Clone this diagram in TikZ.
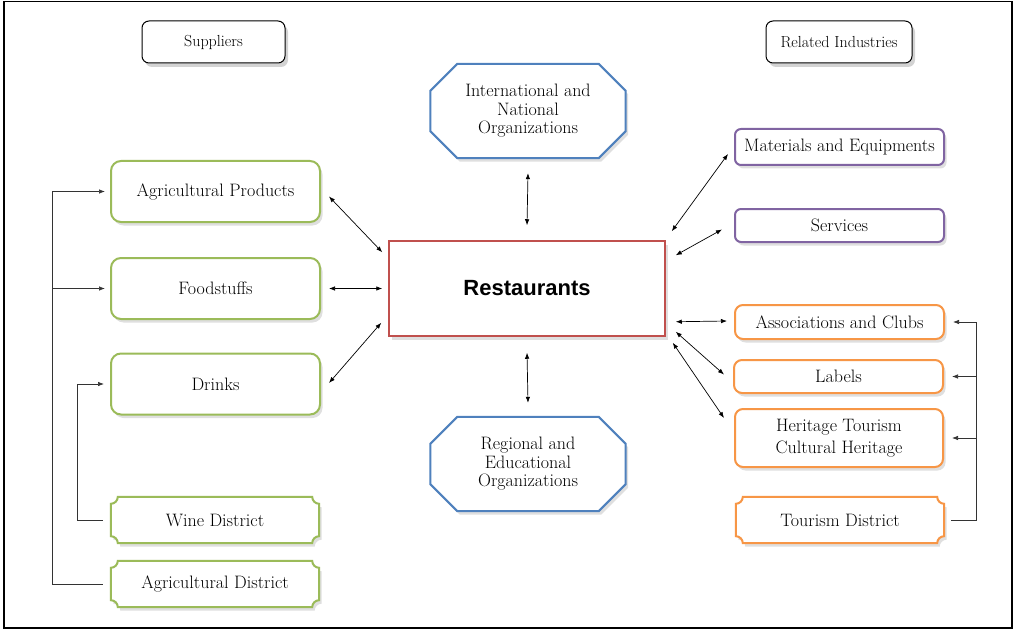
\documentclass[tikz,border=0pt]{standalone}
\usepackage{fontspec}
\newfontfamily\hubfont{Liberation Sans}
\usetikzlibrary{arrows.meta,shadows,backgrounds}

\definecolor{suppgreen}{RGB}{155,187,89}
\definecolor{orgblue}{RGB}{79,129,189}
\definecolor{hubred}{RGB}{192,80,77}
\definecolor{indpurple}{RGB}{128,100,162}
\definecolor{assocorange}{RGB}{247,150,70}

\tikzset{
  every node/.style={font=\fontsize{18}{18.5}\selectfont, inner sep=0pt, align=center},
  shadowed/.style={drop shadow={opacity=0.25, shadow xshift=2.5pt, shadow yshift=-3.5pt}},
  headbox/.style={draw=black, line width=1pt, rounded corners=7pt, fill=white, minimum height=42pt,
    font=\fontsize{16}{17}\selectfont, drop shadow={opacity=0.35, shadow xshift=3pt, shadow yshift=-4pt}},
  suppbox/.style={draw=suppgreen, line width=2pt, rounded corners=10pt, fill=white,
    minimum width=209pt, minimum height=61pt, shadowed},
  indbox/.style={draw=indpurple, line width=2pt, rounded corners=6pt, fill=white,
    minimum width=209pt, minimum height=34pt, shadowed},
  assocbox/.style={draw=assocorange, line width=2pt, rounded corners=8pt, fill=white,
    minimum width=209pt, minimum height=34pt, shadowed},
  orgbox/.style={minimum width=195pt, minimum height=94pt},
  hubbox/.style={draw=hubred, line width=1.5pt, fill=white, minimum width=276pt, minimum height=95pt,
    font=\hubfont\bfseries\fontsize{22}{26}\selectfont, shadowed},
  district/.style={minimum width=208pt, minimum height=46pt},
  arr/.style={-{Latex[length=6pt,width=4.5pt]}, line width=0.7pt, draw=black!80},
  twoway/.style={{Latex[length=6pt,width=4.5pt]}-{Latex[length=6pt,width=4.5pt]}, line width=0.7pt},
}

% box with hollow corners, drawn round a node
\newcommand\scallop[2]{%
  \draw[#2, line width=2pt, fill=white, shadowed]
    ([xshift=7pt]#1.north west) -- ([xshift=-7pt]#1.north east)
    arc[start angle=180, end angle=270, radius=7pt]
    -- ([yshift=7pt]#1.south east)
    arc[start angle=90, end angle=180, radius=7pt]
    -- ([xshift=7pt]#1.south west)
    arc[start angle=0, end angle=90, radius=7pt]
    -- ([yshift=-7pt]#1.north west)
    arc[start angle=270, end angle=360, radius=7pt] -- cycle;}
% octagon round a node
\newcommand\octagon[2]{%
  \draw[#2, line width=2pt, fill=white, shadowed]
    ([xshift=27pt]#1.north west) -- ([xshift=-27pt]#1.north east)
    -- ([yshift=-27pt]#1.north east) -- ([yshift=27pt]#1.south east)
    -- ([xshift=-27pt]#1.south east) -- ([xshift=27pt]#1.south west)
    -- ([yshift=27pt]#1.south west) -- ([yshift=-27pt]#1.north west) -- cycle;}

\begin{document}
\begin{tikzpicture}[x=1pt, y=-1pt]
  \useasboundingbox (0,0) rectangle (1014,631);
  \draw[line width=1.8pt] (4,1.5) rectangle (1012,628);

  % headings
  \node[headbox, minimum width=143pt] (suppl) at (213.5,42) {Suppliers};
  \node[headbox, minimum width=146pt] (related) at (839,42) {Related Industries};

  % centre
  \node[hubbox] (rest) at (527,288.5) {Restaurants};
  \node[orgbox] (intl) at (528,111) {International and\\National\\Organizations};
  \node[orgbox] (regional) at (528,464) {Regional and\\Educational\\Organizations};

  % suppliers
  \node[suppbox] (agri) at (215.5,191.5) {Agricultural Products};
  \node[suppbox] (food) at (215.5,288.5) {Foodstuffs};
  \node[suppbox] (drinks) at (215.5,384) {Drinks};
  \node[district] (wine) at (215,520) {Wine District};
  \node[district] (agridist) at (215,584) {Agricultural District};

  % related industries
  \node[indbox, minimum height=36pt] (mat) at (839.5,147) {Materials and Equipments};
  \node[indbox, minimum height=33pt] (serv) at (839.5,225.5) {Services};
  \node[assocbox] (assoc) at (839.5,322) {Associations and Clubs};
  \node[assocbox, minimum height=33pt] (labels) at (838.5,376.5) {Labels};
  \node[assocbox, minimum width=208pt, minimum height=58pt] (heritage) at (839,438)
    {Heritage Tourism\\[3.5pt]Cultural Heritage};
  \node[district] (tourdist) at (840,520) {Tourism District};

  \begin{scope}[on background layer]
    \octagon{intl}{orgblue}
    \octagon{regional}{orgblue}
    \scallop{wine}{suppgreen}
    \scallop{agridist}{suppgreen}
    \scallop{tourdist}{assocorange}
  \end{scope}

  % links to the restaurants
  \draw[twoway] ([shift={(8,5)}]agri.east) -- ([shift={(-6,12)}]rest.north west);
  \draw[twoway] ([shift={(8,0)}]food.east) -- ([shift={(-6,0)}]rest.west);
  \draw[twoway] ([shift={(8,-1)}]drinks.east) -- ([shift={(-7,-14)}]rest.south west);
  \draw[twoway] ([shift={(0,15)}]intl.south) -- ([shift={(0,-15)}]rest.north);
  \draw[twoway] ([shift={(0,16)}]rest.south) -- ([shift={(0,-14)}]regional.north);
  \draw[twoway] ([shift={(6,-9)}]rest.north east) -- ([shift={(-6,-12)}]mat.south west);
  \draw[twoway] ([shift={(10,15)}]rest.north east) -- ([shift={(-12,4)}]serv.west);
  \draw[twoway] ([shift={(10,-15)}]rest.south east) -- ([shift={(-7,-1)}]assoc.west);
  \draw[twoway] ([shift={(10,-5)}]rest.south east) -- ([shift={(-9,-2)}]labels.west);
  \draw[twoway] ([shift={(7,6)}]rest.south east) -- ([shift={(-10,-20)}]heritage.west);

  % districts
  \coordinate (lbus) at (52,0);
  \coordinate (dbus) at (77,0);
  \coordinate (rbus) at (976,0);
  \draw[arr] ([shift={(-8,0)}]agridist.west) -- (agridist.west -| lbus) |- ([shift={(-5,0)}]agri.west);
  \draw[arr] (food.west -| lbus) -- ([shift={(-5,0)}]food.west);
  \draw[arr] ([shift={(-8,0)}]wine.west) -- (wine.west -| dbus) |- ([shift={(-6,0)}]drinks.west);
  \draw[arr] ([shift={(7,0)}]tourdist.east) -- (tourdist.east -| rbus) |- ([shift={(8,0)}]assoc.east);
  \draw[arr] (labels.east -| rbus) -- ([shift={(8,0)}]labels.east);
  \draw[arr] (heritage.east -| rbus) -- ([shift={(8,0)}]heritage.east);
\end{tikzpicture}
\end{document}
